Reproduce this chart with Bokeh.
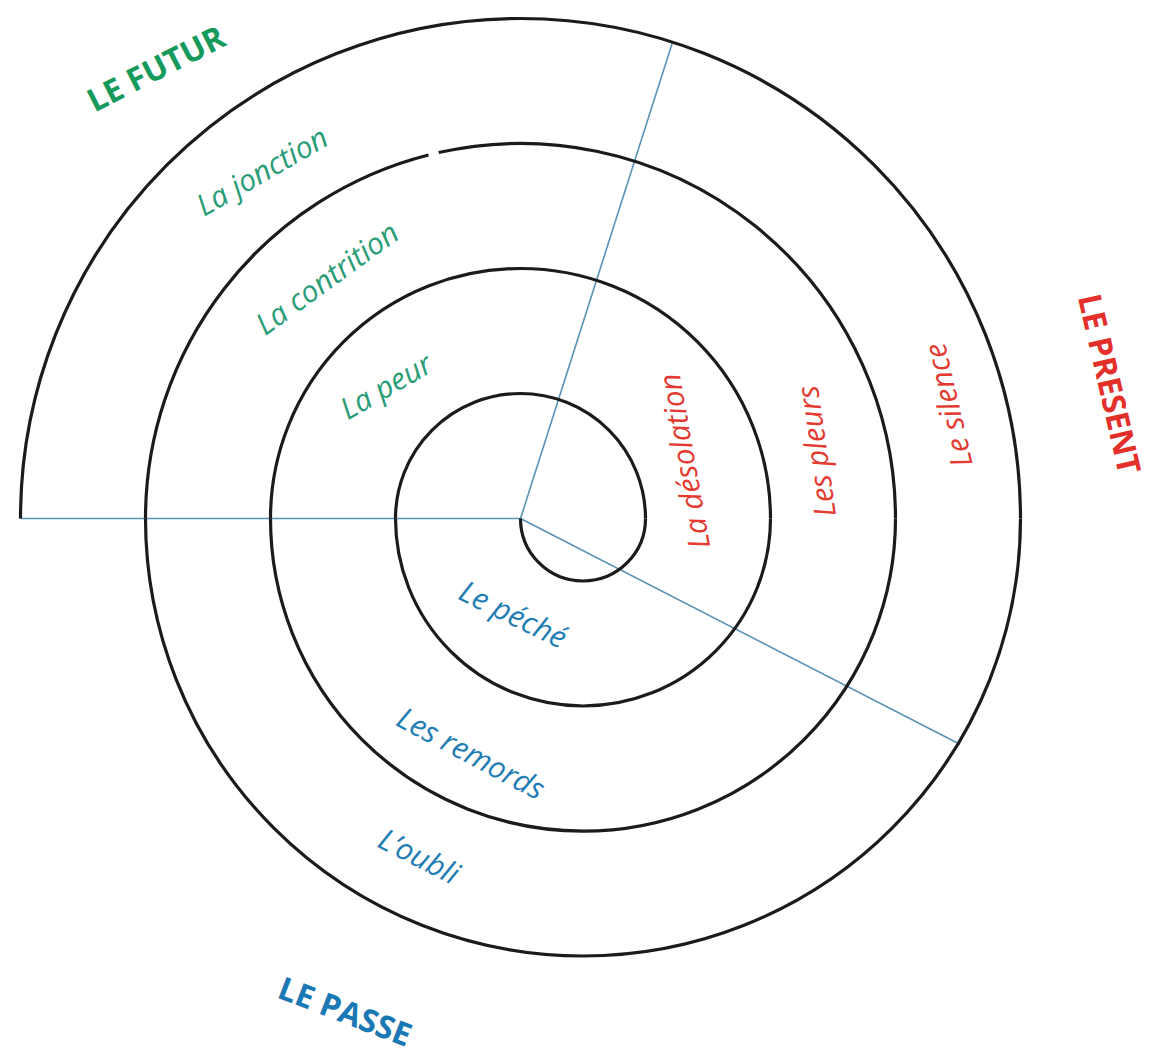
from bokeh.plotting import figure
from bokeh.models import Range1d, ColumnDataSource
from bokeh.core.properties import value
from bokeh.embed import file_html
from bokeh.resources import INLINE

# ---- spiral geometry (pixel units, centre of the spiral = 0,0)
upper_radius = [125, 250, 375, 500]        # upper half-turns, centred on the origin
lower_radius = [62.5, 187.5, 312.5, 437.5]  # lower half-turns, centred on lower_centre_x
lower_centre_x = 62.5
gap_ring = 375                               # small break in the third ring (top-left)
gap_start_deg = 102.6
gap_end_deg = 104.2

# ---- sector rays
ray_angle_deg = [180, 72.3, -27.2]
ray_length = [500, 500, 494]

# ---- labels
sector_names = ["LE FUTUR", "LE PRESENT", "LE PASSE"]
sector_x = [-365, 590, -175]
sector_y = [451, 135, -492]
sector_angle = [27, -77, -21]
sector_color = ["#169a5c", "#e3302a", "#1a79b4"]

ring_labels = ["La jonction", "La contrition", "La peur",
               "La désolation", "Les pleurs", "Le silence",
               "Le péché", "Les remords", "L\u2019oubli"]
ring_x = [-259, -194, -135, 163, 295, 427, -7, -49, -101]
ring_y = [348, 241, 133, 57, 67, 113, -95, -234, -337]
ring_angle = [30, 36, 30, 100, 98, 103, -26, -28, -27]
ring_color = ["#2a9c78"] * 3 + ["#e33a32"] * 3 + ["#1f7db4"] * 3

# ---- build arc table
ax, ar, a0, a1 = [], [], [], []
for r in lower_radius:
    ax.append(lower_centre_x); ar.append(r); a0.append(180.0); a1.append(360.0)
for r in upper_radius:
    if r == gap_ring:
        ax += [0, 0]; ar += [r, r]; a0 += [0.0, gap_end_deg]; a1 += [gap_start_deg, 180.0]
    else:
        ax.append(0); ar.append(r); a0.append(0.0); a1.append(180.0)
arc_src = ColumnDataSource(dict(x=ax, y=[0] * len(ax), r=ar, a0=a0, a1=a1))

p = figure(width=1149, height=1051,
           x_range=Range1d(-520, 629), y_range=Range1d(-533, 518),
           output_backend="svg", toolbar_location=None, min_border=0)
p.axis.visible = False
p.grid.visible = False
p.outline_line_color = None
p.background_fill_color = "white"

p.ray(x=[0] * 3, y=[0] * 3, length=ray_length, angle=ray_angle_deg,
      angle_units="deg", line_color="#5a92b6", line_width=1.6)

p.arc(x="x", y="y", radius="r", start_angle="a0", end_angle="a1",
      start_angle_units="deg", end_angle_units="deg", direction="anticlock",
      source=arc_src, line_color="#1b1b1b", line_width=3.2)

p.text(x=ring_x, y=ring_y, text=ring_labels, angle=ring_angle, angle_units="deg",
       text_color=ring_color, text_font=value("Open Sans"), text_font_style="italic",
       text_font_size="30px", text_align="center", text_baseline="middle")

p.text(x=sector_x, y=sector_y, text=sector_names, angle=sector_angle, angle_units="deg",
       text_color=sector_color, text_font=value("Open Sans"), text_font_style="bold",
       text_font_size="32px", text_align="center", text_baseline="middle")

open("out.html", "w").write(file_html(p, INLINE))
